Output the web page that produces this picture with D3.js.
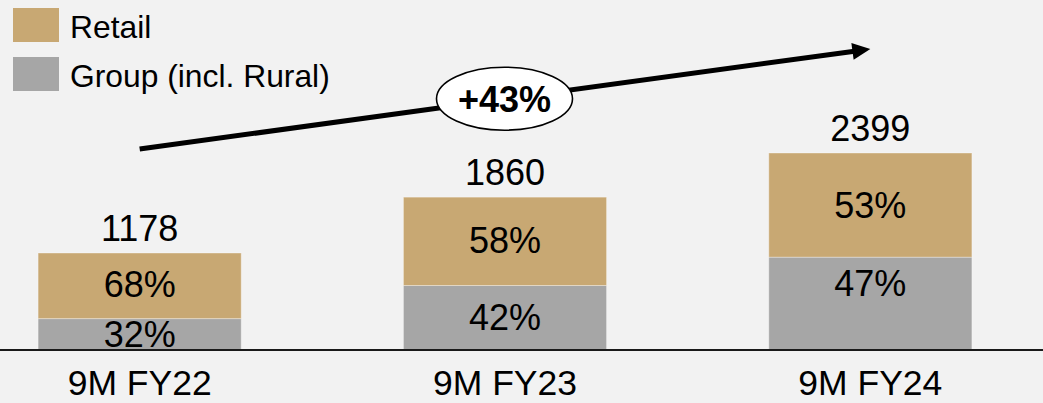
<!DOCTYPE html>
<html>
<head>
<meta charset="utf-8">
<script src="https://cdn.jsdelivr.net/npm/d3@7/dist/d3.min.js"></script>
<style>
  html, body { margin: 0; padding: 0; background: #f2f2f2; }
  svg { display: block; font-family: "Liberation Sans", Arial, sans-serif; }
</style>
</head>
<body>
<svg id="chart" width="1043" height="403"></svg>
<script>
// ---- data ----
const categories = ["9M FY22", "9M FY23", "9M FY24"];
const totals = [1178, 1860, 2399];
const groupShare = [32, 42, 47];   // Group (incl. Rural), % of total
const retailShare = [68, 58, 53];  // Retail, % of total
const seriesNames = ["Retail", "Group (incl. Rural)"];
const growthLabel = "+43%";

// ---- layout / style ----
const W = 1043, H = 403;
const colors = { "Retail": "#c8a873", "Group (incl. Rural)": "#a6a6a6" };
const baseY = 349.5;
const valueFont = 36;

const svg = d3.select("#chart");
svg.append("rect").attr("width", W).attr("height", H).attr("fill", "#f2f2f2");

const x = d3.scaleBand().domain(categories).range([-43, 1053])
  .paddingInner(0.444).paddingOuter(0.222);
const y = d3.scaleLinear().domain([0, d3.max(totals)]).range([baseY, 153]);

const rows = categories.map((c, i) => ({
  cat: c, total: totals[i],
  group: totals[i] * groupShare[i] / 100,
  retail: totals[i] * retailShare[i] / 100,
  gPct: groupShare[i], rPct: retailShare[i]
}));

const stack = d3.stack().keys(["group", "retail"])(rows);

const g = svg.append("g");
stack.forEach(layer => {
  const name = layer.key === "retail" ? "Retail" : "Group (incl. Rural)";
  g.selectAll(null).data(layer).join("rect")
    .attr("x", d => x(d.data.cat))
    .attr("width", x.bandwidth())
    .attr("y", d => y(d[1]))
    .attr("height", d => y(d[0]) - y(d[1]))
    .attr("fill", colors[name])
    .attr("stroke", "rgba(255,255,255,0.35)")
    .attr("stroke-width", 1);
});

// segment labels
const capH = valueFont * 0.716;
const labelNudge = { "group-2": -20, "retail-0": -2, "retail-1": -1.5 };
stack.forEach(layer => {
  g.selectAll(null).data(layer).join("text")
    .attr("x", d => x(d.data.cat) + x.bandwidth() / 2)
    .attr("y", (d, i) => (y(d[0]) + y(d[1])) / 2 + capH / 2 + (labelNudge[layer.key + "-" + i] || 0))
    .attr("text-anchor", "middle")
    .attr("font-size", valueFont)
    .attr("fill", "#000")
    .text(d => (layer.key === "retail" ? d.data.rPct : d.data.gPct) + "%");
});

// totals
g.selectAll(null).data(rows).join("text")
  .attr("x", d => x(d.cat) + x.bandwidth() / 2)
  .attr("y", d => y(d.total) - 12.5)
  .attr("text-anchor", "middle")
  .attr("font-size", valueFont)
  .attr("fill", "#000")
  .text(d => d.total);

// baseline axis
svg.append("line").attr("x1", 0).attr("x2", W).attr("y1", baseY + 0.5).attr("y2", baseY + 0.5)
  .attr("stroke", "#1a1a1a").attr("stroke-width", 1.8);

// category labels
const xAxis = svg.append("g").attr("transform", `translate(0,${baseY})`)
  .call(d3.axisBottom(x).tickSize(0).tickPadding(0));
xAxis.select(".domain").remove();
xAxis.selectAll("text")
  .attr("font-family", "'Liberation Sans', Arial, sans-serif")
  .attr("font-size", 35.5)
  .attr("fill", "#000")
  .attr("dy", null)
  .attr("y", 45.5);

// legend
const legend = svg.append("g");
seriesNames.forEach((s, i) => {
  legend.append("rect").attr("x", 13).attr("y", 8 + i * 49).attr("width", 46).attr("height", 34)
    .attr("fill", colors[s]);
  legend.append("text").attr("x", 70).attr("y", 37.5 + i * 49)
    .attr("font-size", 31.8).attr("fill", "#000").text(s);
});

// growth arrow
const x0 = x(categories[0]) + x.bandwidth() / 2, y0 = 149;
const x1 = x(categories[2]) + x.bandwidth() / 2, y1 = 49;
const ang = Math.atan2(y1 - y0, x1 - x0);
const headLen = 18, headHalf = 8.5;
const bx = x1 - headLen * Math.cos(ang), by = y1 - headLen * Math.sin(ang);
svg.append("line").attr("x1", x0).attr("y1", y0).attr("x2", bx + 2 * Math.cos(ang)).attr("y2", by + 2 * Math.sin(ang))
  .attr("stroke", "#000").attr("stroke-width", 5);
const px = -Math.sin(ang), py = Math.cos(ang);
svg.append("path")
  .attr("d", `M${x1},${y1}L${bx + px * headHalf},${by + py * headHalf}L${bx - px * headHalf},${by - py * headHalf}Z`)
  .attr("fill", "#000");

// growth bubble
const ex = (x0 + x1) / 2 - 0.5, ey = (y0 + y1) / 2 - 0.3;
svg.append("ellipse").attr("cx", ex).attr("cy", ey).attr("rx", 68).attr("ry", 31.5)
  .attr("fill", "#fff").attr("stroke", "#000").attr("stroke-width", 1.6);
svg.append("text").attr("x", ex).attr("y", ey + 13.5)
  .attr("text-anchor", "middle").attr("font-size", 36).attr("font-weight", "bold")
  .attr("fill", "#000").text(growthLabel);
</script>
</body>
</html>
